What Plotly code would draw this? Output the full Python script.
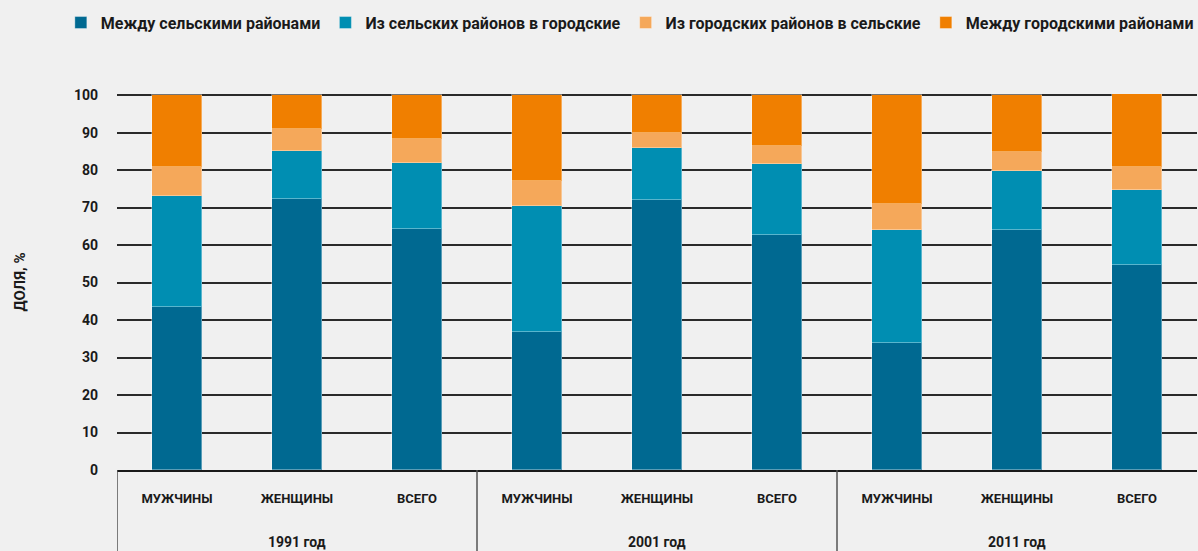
import plotly.graph_objects as go

# ---- data ----
categories = ["МУЖЧИНЫ", "ЖЕНЩИНЫ", "ВСЕГО"] * 3
groups = ["1991 год", "2001 год", "2011 год"]
series_names = [
    "Между сельскими районами",
    "Из сельских районов в городские",
    "Из городских районов в сельские",
    "Между городскими районами",
]
rural_rural = [43.5, 72.3, 64.4, 36.8, 71.9, 62.6, 33.9, 64.0, 54.6]
rural_urban = [29.7, 12.9, 17.6, 33.7, 13.9, 19.0, 30.1, 15.8, 20.0]
urban_rural = [7.5, 5.7, 6.2, 6.7, 4.2, 4.8, 7.0, 5.1, 6.2]
urban_urban = [19.3, 9.1, 11.8, 22.8, 10.0, 13.6, 29.0, 15.1, 19.4]
y_ticks = [0, 10, 20, 30, 40, 50, 60, 70, 80, 90, 100]

series_values = [rural_rural, rural_urban, urban_rural, urban_urban]
colors = ["#006991", "#008eb2", "#f5a85a", "#f07f00"]

FONT = "Roboto, Liberation Sans, sans-serif"
TXT = "#1a1a1a"

x_idx = list(range(len(categories)))
fig = go.Figure()
for name, vals, col in zip(series_names, series_values, colors):
    fig.add_trace(go.Bar(
        x=x_idx, y=vals, name=f"<b>{name}</b>", width=0.42,
        marker=dict(color=col, line=dict(color="rgba(255,255,255,0.35)", width=1)),
    ))

n_per_group = len(categories) // len(groups)
# group labels & dividers
for g, label in enumerate(groups):
    idxs = x_idx[g * n_per_group:(g + 1) * n_per_group]
    center = sum(idxs) / len(idxs)
    fig.add_annotation(
        x=center, xref="x", y=-0.192, yref="paper", yanchor="middle",
        text=f"<b>{label}</b>", showarrow=False,
        font=dict(family=FONT, size=14, color=TXT),
    )
    fig.add_shape(
        type="line", xref="x", yref="paper",
        x0=idxs[0] - 0.5, x1=idxs[0] - 0.5, y0=0, y1=-0.3,
        line=dict(color="#555555", width=1.5),
    )

fig.update_layout(
    width=1198, height=551,
    barmode="stack",
    bargap=0,
    paper_bgcolor="#f0f0f0",
    plot_bgcolor="#f0f0f0",
    margin=dict(l=117, r=1, t=94, b=81, autoexpand=False),
    font=dict(family=FONT, color=TXT),
    showlegend=True,
    legend=dict(
        orientation="h", x=-0.052, xanchor="left", y=1.235, yanchor="top",
        font=dict(family=FONT, size=16, color=TXT),
        bgcolor="rgba(0,0,0,0)", traceorder="normal",
        itemclick=False,
    ),
    xaxis=dict(
        range=[-0.5, len(categories) - 0.5],
        tickvals=x_idx, ticktext=[f"<b>{c}</b>" for c in categories],
        tickfont=dict(family=FONT, size=13, color=TXT),
        ticks="", ticklabelstandoff=16,
        showgrid=False, zeroline=False,
        showline=True, linecolor="#1a1a1a", linewidth=1.5,
        fixedrange=True, automargin=False,
    ),
    yaxis=dict(
        range=[0, 100.3],
        tickvals=y_ticks, ticktext=[f"<b>{v}</b>" for v in y_ticks],
        tickfont=dict(family=FONT, size=14, color=TXT),
        ticks="", ticklabelstandoff=18,
        showgrid=True, gridcolor="#2a2a2a", gridwidth=1.5,
        zeroline=False, showline=False,
        title=dict(text="<b>ДОЛЯ, %</b>", font=dict(family=FONT, size=15, color=TXT), standoff=44),
        fixedrange=True, automargin=False,
    ),
)

fig.write_html(
    "out.html",
    config={"displayModeBar": False},
    post_script="document.body.style.margin='0';document.body.style.background='#f0f0f0';",
)
